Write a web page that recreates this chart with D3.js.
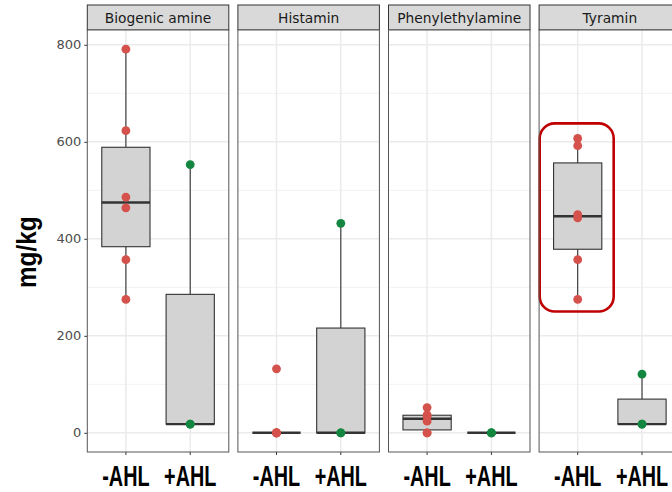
<!DOCTYPE html>
<html>
<head>
<meta charset="utf-8">
<script src="https://cdn.jsdelivr.net/npm/d3@7"></script>
<style>
  body { margin: 0; background: #fff; }
  svg { display: block; overflow: hidden; }
</style>
</head>
<body>
<div id="chart-area"></div>
<script>
// data
var amines = ["Biogenic amine", "Histamin", "Phenylethylamine", "Tyramin"];
var groups = ["-AHL", "+AHL"];
var minusAHL = [
  [275, 357, 464, 486, 623, 791],
  [0, 0, 0, 0, 0, 132],
  [0, 0, 24, 34, 37, 52],
  [275, 357, 443, 450, 592, 607]
];
var plusAHL = [
  [18, 18, 553],
  [0, 0, 432],
  [0, 0, 0],
  [18, 18, 121]
];
var yTicks = [0, 200, 400, 600, 800];
var yMinor = [100, 300, 500, 700];
var groupColors = ["#d4524b", "#13873f"];
var highlight = {amine: "Tyramin", group: "-AHL"};

var width = 672;
var height = 492;

var panelW = 141.5;
var panelStep = 150.6;
var panelLeft = 87.3;
var stripTop = 5;
var panelTop = 30;
var panelBottom = 452;

var svg = d3.select("#chart-area").append("svg")
  .attr("width", width)
  .attr("height", height)

// y scale with ggplot style 5% expansion
var allVals = minusAHL.concat(plusAHL).flat();
var yMax = d3.max(allVals), yMin = d3.min(allVals);
var pad = (yMax - yMin) * 0.05;
var y = d3.scaleLinear()
  .domain([yMin - pad, yMax + pad])
  .range([panelBottom, panelTop])

// discrete x: positions 1,2 with 0.6 expansion
var x = d3.scaleLinear().domain([0.4, 2.6]).range([0, panelW]);
var step = x(2) - x(1);
var boxW = step * 0.75;

// y axis
var yAxis = svg.append("g")
  .attr("transform", "translate(" + panelLeft + ",0)")
  .call(d3.axisLeft(y).tickValues(yTicks).tickSize(3).tickPadding(3))
yAxis.select(".domain").remove()
yAxis.selectAll("line").attr("stroke", "#333").attr("stroke-width", 1)
yAxis.selectAll("text")
  .attr("fill", "#4d4d4d")
  .style("font-family", "DejaVu Sans")
  .style("font-size", "13px")

// y label (squeezed like the original)
svg.append("text")
  .attr("transform", "translate(36,288) rotate(-90) scale(0.9,1)")
  .style("font-family", "Liberation Sans")
  .style("font-weight", "bold")
  .style("font-size", "27px")
  .attr("fill", "#000")
  .text("mg/kg")

amines.forEach(function(amine, i) {
  var g = svg.append("g")
    .attr("transform", "translate(" + (panelLeft + i * panelStep) + ",0)")

  // strip
  g.append("rect")
    .attr("x", 0).attr("y", stripTop)
    .attr("width", panelW).attr("height", panelTop - stripTop)
    .attr("fill", "#d9d9d9")
    .attr("stroke", "#333").attr("stroke-width", 1)
  g.append("text")
    .attr("x", panelW / 2).attr("y", (stripTop + panelTop) / 2 + 5)
    .attr("text-anchor", "middle")
    .attr("fill", "#1a1a1a")
    .style("font-family", "DejaVu Sans")
    .style("font-size", "13.8px")
    .text(amine)

  // panel bg + grid
  g.append("rect")
    .attr("x", 0).attr("y", panelTop)
    .attr("width", panelW).attr("height", panelBottom - panelTop)
    .attr("fill", "#fff")
  g.selectAll(".minor").data(yMinor).enter().append("line")
    .attr("x1", 0).attr("x2", panelW)
    .attr("y1", d => y(d)).attr("y2", d => y(d))
    .attr("stroke", "#f2f2f2").attr("stroke-width", 1)
  g.selectAll(".major").data(yTicks).enter().append("line")
    .attr("x1", 0).attr("x2", panelW)
    .attr("y1", d => y(d)).attr("y2", d => y(d))
    .attr("stroke", "#ebebeb").attr("stroke-width", 1.5)
  groups.forEach(function(grp, j) {
    g.append("line")
      .attr("x1", x(j + 1)).attr("x2", x(j + 1))
      .attr("y1", panelTop).attr("y2", panelBottom)
      .attr("stroke", "#ebebeb").attr("stroke-width", 1.5)
  })

  // boxes
  groups.forEach(function(grp, j) {
    var vals = (j == 0 ? minusAHL : plusAHL)[i].slice().sort(d3.ascending);
    var q1 = d3.quantile(vals, 0.25);
    var med = d3.quantile(vals, 0.5);
    var q3 = d3.quantile(vals, 0.75);
    var iqr = q3 - q1;
    var lo = d3.min(vals.filter(v => v >= q1 - 1.5 * iqr));
    var hi = d3.max(vals.filter(v => v <= q3 + 1.5 * iqr));
    var cx = x(j + 1);

    g.append("line")
      .attr("x1", cx).attr("x2", cx)
      .attr("y1", y(hi)).attr("y2", y(q3))
      .attr("stroke", "#333").attr("stroke-width", 1.1)
    g.append("line")
      .attr("x1", cx).attr("x2", cx)
      .attr("y1", y(q1)).attr("y2", y(lo))
      .attr("stroke", "#333").attr("stroke-width", 1.1)
    g.append("rect")
      .attr("x", cx - boxW / 2).attr("y", y(q3))
      .attr("width", boxW).attr("height", y(q1) - y(q3))
      .attr("fill", "#d3d3d3")
      .attr("stroke", "#333").attr("stroke-width", 1.1)
    g.append("line")
      .attr("x1", cx - boxW / 2).attr("x2", cx + boxW / 2)
      .attr("y1", y(med)).attr("y2", y(med))
      .attr("stroke", "#333").attr("stroke-width", 2.4)

    g.selectAll(".pt" + j).data(vals).enter().append("circle")
      .attr("cx", cx).attr("cy", d => y(d))
      .attr("r", 4.4)
      .attr("fill", groupColors[j])

    // x tick + label
    g.append("line")
      .attr("x1", cx).attr("x2", cx)
      .attr("y1", panelBottom).attr("y2", panelBottom + 3)
      .attr("stroke", "#333")
    g.append("text")
      .attr("transform", "translate(" + cx + ",486) scale(0.66,1)")
      .attr("text-anchor", "middle")
      .attr("fill", "#000")
      .style("font-family", "Liberation Sans")
      .style("font-weight", "bold")
      .style("font-size", "30px")
      .text(grp)

    // highlight box
    if (amine == highlight.amine && grp == highlight.group) {
      g.append("rect")
        .attr("x", cx - 38).attr("y", y(d3.max(vals)) - 15)
        .attr("width", 74)
        .attr("height", y(d3.min(vals)) - y(d3.max(vals)) + 27)
        .attr("rx", 15).attr("ry", 15)
        .attr("fill", "none")
        .attr("stroke", "#c00000").attr("stroke-width", 2.6)
    }
  })

  // panel border
  g.append("rect")
    .attr("x", 0).attr("y", panelTop)
    .attr("width", panelW).attr("height", panelBottom - panelTop)
    .attr("fill", "none")
    .attr("stroke", "#555").attr("stroke-width", 1)
})
</script>
</body>
</html>
